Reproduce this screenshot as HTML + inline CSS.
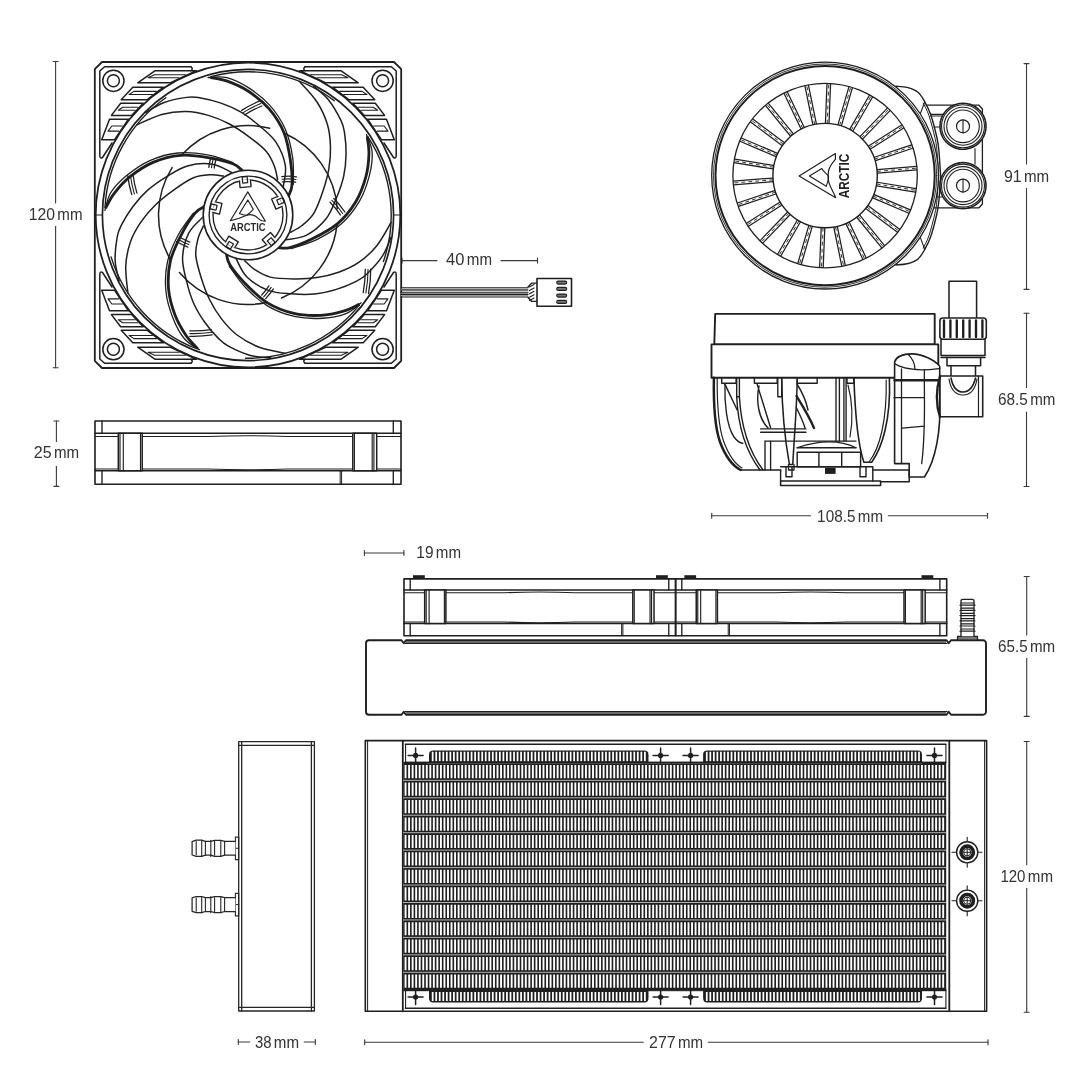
<!DOCTYPE html>
<html><head><meta charset="utf-8"><style>
html,body{margin:0;padding:0;background:#fff;width:1080px;height:1080px;overflow:hidden}
svg{display:block;font-family:"Liberation Sans",sans-serif;will-change:transform}
</style></head><body>
<svg width="1080" height="1080" viewBox="0 0 1080 1080" fill="none" stroke-linecap="round" stroke-linejoin="round">
<rect width="1080" height="1080" fill="#fff"/>
<line x1="55.6" y1="61.5" x2="55.6" y2="203" stroke="#3a3a3a" stroke-width="1.1"/>
<line x1="55.6" y1="226.3" x2="55.6" y2="367.8" stroke="#3a3a3a" stroke-width="1.1"/>
<line x1="53.1" y1="61.5" x2="58.1" y2="61.5" stroke="#3a3a3a" stroke-width="1.1"/>
<line x1="53.1" y1="367.8" x2="58.1" y2="367.8" stroke="#3a3a3a" stroke-width="1.1"/>
<text x="28.7" y="220" textLength="26.3" lengthAdjust="spacingAndGlyphs" font-size="17" fill="#333">120</text>
<text x="57.3" y="220" textLength="25.2" lengthAdjust="spacingAndGlyphs" font-size="17" fill="#333">mm</text>
<line x1="56.4" y1="421" x2="56.4" y2="441.5" stroke="#3a3a3a" stroke-width="1.1"/>
<line x1="56.4" y1="466.3" x2="56.4" y2="486.4" stroke="#3a3a3a" stroke-width="1.1"/>
<line x1="53.9" y1="421" x2="58.9" y2="421" stroke="#3a3a3a" stroke-width="1.1"/>
<line x1="53.9" y1="486.4" x2="58.9" y2="486.4" stroke="#3a3a3a" stroke-width="1.1"/>
<text x="33.7" y="458.4" textLength="17.9" lengthAdjust="spacingAndGlyphs" font-size="17" fill="#333">25</text>
<text x="53.9" y="458.4" textLength="25.2" lengthAdjust="spacingAndGlyphs" font-size="17" fill="#333">mm</text>
<line x1="402" y1="260.6" x2="437" y2="260.6" stroke="#3a3a3a" stroke-width="1.1"/>
<line x1="501" y1="260.6" x2="537.5" y2="260.6" stroke="#3a3a3a" stroke-width="1.1"/>
<line x1="402" y1="258.1" x2="402" y2="263.1" stroke="#3a3a3a" stroke-width="1.1"/>
<line x1="537.5" y1="258.1" x2="537.5" y2="263.1" stroke="#3a3a3a" stroke-width="1.1"/>
<text x="446.1" y="264.6" textLength="18.4" lengthAdjust="spacingAndGlyphs" font-size="17" fill="#333">40</text>
<text x="466.8" y="264.6" textLength="25.2" lengthAdjust="spacingAndGlyphs" font-size="17" fill="#333">mm</text>
<line x1="1026.5" y1="63.6" x2="1026.5" y2="164" stroke="#3a3a3a" stroke-width="1.1"/>
<line x1="1026.5" y1="188.5" x2="1026.5" y2="289.4" stroke="#3a3a3a" stroke-width="1.1"/>
<line x1="1024" y1="63.6" x2="1029" y2="63.6" stroke="#3a3a3a" stroke-width="1.1"/>
<line x1="1024" y1="289.4" x2="1029" y2="289.4" stroke="#3a3a3a" stroke-width="1.1"/>
<text x="1003.9" y="181.5" textLength="17.7" lengthAdjust="spacingAndGlyphs" font-size="17" fill="#333">91</text>
<text x="1023.9" y="181.5" textLength="25.2" lengthAdjust="spacingAndGlyphs" font-size="17" fill="#333">mm</text>
<line x1="1026.5" y1="313.3" x2="1026.5" y2="387.4" stroke="#3a3a3a" stroke-width="1.1"/>
<line x1="1026.5" y1="412.1" x2="1026.5" y2="486.5" stroke="#3a3a3a" stroke-width="1.1"/>
<line x1="1024" y1="313.3" x2="1029" y2="313.3" stroke="#3a3a3a" stroke-width="1.1"/>
<line x1="1024" y1="486.5" x2="1029" y2="486.5" stroke="#3a3a3a" stroke-width="1.1"/>
<text x="998.1" y="404.9" textLength="29.8" lengthAdjust="spacingAndGlyphs" font-size="17" fill="#333">68.5</text>
<text x="1030.2" y="404.9" textLength="25.2" lengthAdjust="spacingAndGlyphs" font-size="17" fill="#333">mm</text>
<line x1="711.7" y1="515.8" x2="810.6" y2="515.8" stroke="#3a3a3a" stroke-width="1.1"/>
<line x1="888.3" y1="515.8" x2="987.5" y2="515.8" stroke="#3a3a3a" stroke-width="1.1"/>
<line x1="711.7" y1="513.3" x2="711.7" y2="518.3" stroke="#3a3a3a" stroke-width="1.1"/>
<line x1="987.5" y1="513.3" x2="987.5" y2="518.3" stroke="#3a3a3a" stroke-width="1.1"/>
<text x="817.1" y="521.5" textLength="38.4" lengthAdjust="spacingAndGlyphs" font-size="17" fill="#333">108.5</text>
<text x="857.8" y="521.5" textLength="25.2" lengthAdjust="spacingAndGlyphs" font-size="17" fill="#333">mm</text>
<line x1="364.4" y1="553" x2="403.9" y2="553" stroke="#3a3a3a" stroke-width="1.1"/>
<line x1="364.4" y1="550.5" x2="364.4" y2="555.5" stroke="#3a3a3a" stroke-width="1.1"/>
<line x1="403.9" y1="550.5" x2="403.9" y2="555.5" stroke="#3a3a3a" stroke-width="1.1"/>
<text x="416.3" y="557.8" textLength="17.2" lengthAdjust="spacingAndGlyphs" font-size="17" fill="#333">19</text>
<text x="435.8" y="557.8" textLength="25.2" lengthAdjust="spacingAndGlyphs" font-size="17" fill="#333">mm</text>
<line x1="1026.7" y1="576.5" x2="1026.7" y2="634.9" stroke="#3a3a3a" stroke-width="1.1"/>
<line x1="1026.7" y1="658.3" x2="1026.7" y2="716.4" stroke="#3a3a3a" stroke-width="1.1"/>
<line x1="1024.2" y1="576.5" x2="1029.2" y2="576.5" stroke="#3a3a3a" stroke-width="1.1"/>
<line x1="1024.2" y1="716.4" x2="1029.2" y2="716.4" stroke="#3a3a3a" stroke-width="1.1"/>
<text x="998.1" y="651.8" textLength="29.6" lengthAdjust="spacingAndGlyphs" font-size="17" fill="#333">65.5</text>
<text x="1030" y="651.8" textLength="25.2" lengthAdjust="spacingAndGlyphs" font-size="17" fill="#333">mm</text>
<line x1="1026.7" y1="741.5" x2="1026.7" y2="864.7" stroke="#3a3a3a" stroke-width="1.1"/>
<line x1="1026.7" y1="888.3" x2="1026.7" y2="1012.2" stroke="#3a3a3a" stroke-width="1.1"/>
<line x1="1024.2" y1="741.5" x2="1029.2" y2="741.5" stroke="#3a3a3a" stroke-width="1.1"/>
<line x1="1024.2" y1="1012.2" x2="1029.2" y2="1012.2" stroke="#3a3a3a" stroke-width="1.1"/>
<text x="1000.4" y="882" textLength="25.1" lengthAdjust="spacingAndGlyphs" font-size="17" fill="#333">120</text>
<text x="1027.8" y="882" textLength="25.2" lengthAdjust="spacingAndGlyphs" font-size="17" fill="#333">mm</text>
<line x1="238.3" y1="1042" x2="249.7" y2="1042" stroke="#3a3a3a" stroke-width="1.1"/>
<line x1="304.2" y1="1042" x2="315.3" y2="1042" stroke="#3a3a3a" stroke-width="1.1"/>
<line x1="238.3" y1="1039.5" x2="238.3" y2="1044.5" stroke="#3a3a3a" stroke-width="1.1"/>
<line x1="315.3" y1="1039.5" x2="315.3" y2="1044.5" stroke="#3a3a3a" stroke-width="1.1"/>
<text x="254.9" y="1047.8" textLength="16.6" lengthAdjust="spacingAndGlyphs" font-size="17" fill="#333">38</text>
<text x="273.8" y="1047.8" textLength="25.2" lengthAdjust="spacingAndGlyphs" font-size="17" fill="#333">mm</text>
<line x1="364.7" y1="1042.2" x2="643.3" y2="1042.2" stroke="#3a3a3a" stroke-width="1.1"/>
<line x1="708.3" y1="1042.2" x2="988" y2="1042.2" stroke="#3a3a3a" stroke-width="1.1"/>
<line x1="364.7" y1="1039.7" x2="364.7" y2="1044.7" stroke="#3a3a3a" stroke-width="1.1"/>
<line x1="988" y1="1039.7" x2="988" y2="1044.7" stroke="#3a3a3a" stroke-width="1.1"/>
<text x="649.1" y="1047.8" textLength="26.6" lengthAdjust="spacingAndGlyphs" font-size="17" fill="#333">277</text>
<text x="678" y="1047.8" textLength="25.2" lengthAdjust="spacingAndGlyphs" font-size="17" fill="#333">mm</text>
<path d="M102 62H394L401.2 69.2V360.8L394 368H102L94.8 360.8V69.2Z" stroke="#1f1f1f" stroke-width="1.8"/>
<g><path d="M191 66.8H104.6L99.8 71V155.5Q99.8 159 102.5 157.5L112 143" stroke="#1f1f1f" stroke-width="1.5"/>
<path d="M191 66.8Q193.5 68.7 191 70.7" stroke="#1f1f1f" stroke-width="1.5"/>
<circle cx="113.4" cy="80.8" r="10.6" stroke="#1f1f1f" stroke-width="1.5"/>
<circle cx="113.4" cy="80.8" r="6" stroke="#1f1f1f" stroke-width="1.5"/>
<path d="M137.7 82.8H170.58L196.54 70.7H155.2Z" stroke="#1f1f1f" stroke-width="1.5"/>
<path d="M154.42 74.69H185.48 M154.42 74.69L148.05 77.72H179" stroke="#1f1f1f" stroke-width="1.1"/>
<path d="M121.2 99.8H147.01L163.52 87.2H132.8Z" stroke="#1f1f1f" stroke-width="1.5"/>
<path d="M133.97 91.36H156.54 M133.97 91.36L129.07 94.51H152.39" stroke="#1f1f1f" stroke-width="1.1"/>
<path d="M111.4 115.4H131.6L143.26 103.2H120.7Z" stroke="#1f1f1f" stroke-width="1.5"/>
<path d="M122.63 107.23H138.12 M122.63 107.23L118.31 110.28H135.18" stroke="#1f1f1f" stroke-width="1.1"/>
<path d="M101.7 139.7H114.58L128.45 119.2H109.5Z" stroke="#1f1f1f" stroke-width="1.5"/>
<path d="M111.93 125.97H122.33 M111.93 125.97L107.98 131.09H118.82" stroke="#1f1f1f" stroke-width="1.1"/></g>
<g transform="matrix(-1 0 0 1 496 0)"><path d="M191 66.8H104.6L99.8 71V155.5Q99.8 159 102.5 157.5L112 143" stroke="#1f1f1f" stroke-width="1.5"/>
<path d="M191 66.8Q193.5 68.7 191 70.7" stroke="#1f1f1f" stroke-width="1.5"/>
<circle cx="113.4" cy="80.8" r="10.6" stroke="#1f1f1f" stroke-width="1.5"/>
<circle cx="113.4" cy="80.8" r="6" stroke="#1f1f1f" stroke-width="1.5"/>
<path d="M137.7 82.8H170.58L196.54 70.7H155.2Z" stroke="#1f1f1f" stroke-width="1.5"/>
<path d="M154.42 74.69H185.48 M154.42 74.69L148.05 77.72H179" stroke="#1f1f1f" stroke-width="1.1"/>
<path d="M121.2 99.8H147.01L163.52 87.2H132.8Z" stroke="#1f1f1f" stroke-width="1.5"/>
<path d="M133.97 91.36H156.54 M133.97 91.36L129.07 94.51H152.39" stroke="#1f1f1f" stroke-width="1.1"/>
<path d="M111.4 115.4H131.6L143.26 103.2H120.7Z" stroke="#1f1f1f" stroke-width="1.5"/>
<path d="M122.63 107.23H138.12 M122.63 107.23L118.31 110.28H135.18" stroke="#1f1f1f" stroke-width="1.1"/>
<path d="M101.7 139.7H114.58L128.45 119.2H109.5Z" stroke="#1f1f1f" stroke-width="1.5"/>
<path d="M111.93 125.97H122.33 M111.93 125.97L107.98 131.09H118.82" stroke="#1f1f1f" stroke-width="1.1"/></g>
<g transform="matrix(1 0 0 -1 0 430)"><path d="M191 66.8H104.6L99.8 71V155.5Q99.8 159 102.5 157.5L112 143" stroke="#1f1f1f" stroke-width="1.5"/>
<path d="M191 66.8Q193.5 68.7 191 70.7" stroke="#1f1f1f" stroke-width="1.5"/>
<circle cx="113.4" cy="80.8" r="10.6" stroke="#1f1f1f" stroke-width="1.5"/>
<circle cx="113.4" cy="80.8" r="6" stroke="#1f1f1f" stroke-width="1.5"/>
<path d="M137.7 82.8H170.58L196.54 70.7H155.2Z" stroke="#1f1f1f" stroke-width="1.5"/>
<path d="M154.42 74.69H185.48 M154.42 74.69L148.05 77.72H179" stroke="#1f1f1f" stroke-width="1.1"/>
<path d="M121.2 99.8H147.01L163.52 87.2H132.8Z" stroke="#1f1f1f" stroke-width="1.5"/>
<path d="M133.97 91.36H156.54 M133.97 91.36L129.07 94.51H152.39" stroke="#1f1f1f" stroke-width="1.1"/>
<path d="M111.4 115.4H131.6L143.26 103.2H120.7Z" stroke="#1f1f1f" stroke-width="1.5"/>
<path d="M122.63 107.23H138.12 M122.63 107.23L118.31 110.28H135.18" stroke="#1f1f1f" stroke-width="1.1"/>
<path d="M101.7 139.7H114.58L128.45 119.2H109.5Z" stroke="#1f1f1f" stroke-width="1.5"/>
<path d="M111.93 125.97H122.33 M111.93 125.97L107.98 131.09H118.82" stroke="#1f1f1f" stroke-width="1.1"/></g>
<g transform="matrix(-1 0 0 -1 496 430)"><path d="M191 66.8H104.6L99.8 71V155.5Q99.8 159 102.5 157.5L112 143" stroke="#1f1f1f" stroke-width="1.5"/>
<path d="M191 66.8Q193.5 68.7 191 70.7" stroke="#1f1f1f" stroke-width="1.5"/>
<circle cx="113.4" cy="80.8" r="10.6" stroke="#1f1f1f" stroke-width="1.5"/>
<circle cx="113.4" cy="80.8" r="6" stroke="#1f1f1f" stroke-width="1.5"/>
<path d="M137.7 82.8H170.58L196.54 70.7H155.2Z" stroke="#1f1f1f" stroke-width="1.5"/>
<path d="M154.42 74.69H185.48 M154.42 74.69L148.05 77.72H179" stroke="#1f1f1f" stroke-width="1.1"/>
<path d="M121.2 99.8H147.01L163.52 87.2H132.8Z" stroke="#1f1f1f" stroke-width="1.5"/>
<path d="M133.97 91.36H156.54 M133.97 91.36L129.07 94.51H152.39" stroke="#1f1f1f" stroke-width="1.1"/>
<path d="M111.4 115.4H131.6L143.26 103.2H120.7Z" stroke="#1f1f1f" stroke-width="1.5"/>
<path d="M122.63 107.23H138.12 M122.63 107.23L118.31 110.28H135.18" stroke="#1f1f1f" stroke-width="1.1"/>
<path d="M101.7 139.7H114.58L128.45 119.2H109.5Z" stroke="#1f1f1f" stroke-width="1.5"/>
<path d="M111.93 125.97H122.33 M111.93 125.97L107.98 131.09H118.82" stroke="#1f1f1f" stroke-width="1.1"/></g>
<circle cx="248" cy="215" r="152.3" stroke="#1f1f1f" stroke-width="1.75"/>
<circle cx="248" cy="215" r="145.6" stroke="#1f1f1f" stroke-width="1.7"/>
<path d="M96 215H102.4M394 215H400" stroke="#1f1f1f" stroke-width="1.2"/>
<path d="M242.58 170.83C241.05 169.7 238.92 166.23 233.39 164.05C227.86 161.88 218.22 159.24 209.42 157.8C200.62 156.35 189.99 154.61 180.59 155.36C171.19 156.12 161.44 158.8 153.02 162.35C144.6 165.9 136.53 171.52 130.07 176.68C123.61 181.85 118.27 188.19 114.24 193.34C110.21 198.48 107.29 205.18 105.9 207.55" stroke="#1f1f1f" stroke-width="2.8"/>
<path d="M232.94 162.5C228.69 161.22 216.58 156.4 207.4 154.81C198.23 153.23 187.49 152.01 177.9 152.98C168.31 153.94 158.41 156.84 149.87 160.6C141.33 164.37 133.17 170.21 126.65 175.57C120.12 180.93 114.32 186.94 110.69 192.76C107.06 198.58 105.84 207.55 104.87 210.5" stroke="#1f1f1f" stroke-width="1.3"/>
<path d="M105 207.51A143.2 143.2 0 0 1 165.86 97.7" stroke="#1f1f1f" stroke-width="1.4"/>
<path d="M145.75 112.75C148.7 111.09 156.61 105.35 163.44 102.79C170.28 100.23 180.77 98.22 186.77 97.38C192.77 96.54 193.86 96.84 199.44 97.76C205.02 98.68 213.39 100.51 220.25 102.88C227.12 105.25 234.09 108.14 240.61 111.96C247.14 115.79 253.53 120.79 259.42 125.83C265.31 130.86 271.64 135.57 275.95 142.18C280.27 148.79 284.08 158.12 285.31 165.48C286.55 172.85 283.69 182.89 283.36 186.37" stroke="#1f1f1f" stroke-width="1.5"/>
<path d="M136.71 124.88C140.9 123.15 153.57 116.7 161.84 114.47C170.1 112.24 178.54 111.34 186.3 111.5C194.05 111.65 201.26 113.35 208.36 115.4C215.47 117.44 222.27 120.29 228.94 123.77C235.62 127.25 242.15 131.65 248.41 136.3C254.68 140.95 262.15 146.55 266.52 151.65C270.9 156.75 272.82 162.21 274.66 166.9C276.51 171.58 277.08 177.62 277.57 179.76" stroke="#1f1f1f" stroke-width="1.5"/>
<path d="M288.33 196.19C288.93 194.39 291.58 191.29 291.94 185.36C292.3 179.44 291.82 169.44 290.48 160.63C289.14 151.81 287.51 141.17 283.89 132.46C280.26 123.76 274.7 115.31 268.72 108.4C262.74 101.48 254.91 95.55 248 91C241.09 86.45 233.41 83.34 227.27 81.1C221.13 78.85 213.85 78.14 211.17 77.55" stroke="#1f1f1f" stroke-width="2.8"/>
<path d="M293.28 184.46C293.18 180.01 294.02 167.01 292.7 157.79C291.37 148.57 289.2 137.98 285.32 129.16C281.44 120.34 275.63 111.82 269.41 104.86C263.19 97.9 255.11 91.95 248 87.4C240.89 82.85 233.38 79.19 226.72 77.54C220.06 75.89 211.16 77.49 208.05 77.49" stroke="#1f1f1f" stroke-width="1.3"/>
<path d="M210.94 76.68A143.2 143.2 0 0 1 334.18 100.64" stroke="#1f1f1f" stroke-width="1.4"/>
<path d="M313.65 86.16C316.14 88.45 324.04 94.2 328.59 99.91C333.14 105.62 338.29 114.98 340.94 120.42C343.59 125.87 343.64 126.99 344.5 132.59C345.35 138.18 346.19 146.71 346.06 153.97C345.93 161.22 345.33 168.75 343.71 176.14C342.09 183.53 339.31 191.15 336.34 198.31C333.37 205.47 330.85 212.94 325.89 219.08C320.94 225.23 313.24 231.74 306.62 235.19C300 238.64 289.57 239.02 286.16 239.78" stroke="#1f1f1f" stroke-width="1.5"/>
<path d="M299.32 81.31C302.26 84.76 312.31 94.82 316.98 101.99C321.66 109.16 325.12 116.91 327.37 124.33C329.62 131.76 330.23 139.13 330.48 146.52C330.73 153.92 330.13 161.26 328.88 168.68C327.62 176.11 325.46 183.68 322.97 191.07C320.49 198.47 317.47 207.31 313.97 213.04C310.47 218.78 305.88 222.3 301.99 225.49C298.1 228.69 292.54 231.11 290.65 232.23" stroke="#1f1f1f" stroke-width="1.5"/>
<path d="M278.35 247.55C280.25 247.56 284.02 249.12 289.76 247.63C295.51 246.14 304.87 242.6 312.84 238.6C320.81 234.6 330.43 229.77 337.59 223.63C344.74 217.49 351.07 209.59 355.79 201.76C360.51 193.94 363.74 184.66 365.93 176.68C368.12 168.71 368.71 160.44 368.95 153.91C369.18 147.38 367.61 140.23 367.34 137.5" stroke="#1f1f1f" stroke-width="2.8"/>
<path d="M291.04 248.63C295.24 247.16 307.87 243.94 316.22 239.83C324.58 235.72 333.98 230.39 341.17 223.97C348.36 217.55 354.67 209.39 359.36 201.33C364.06 193.26 367.22 183.74 369.35 175.57C371.49 167.4 372.64 159.13 372.16 152.28C371.67 145.44 367.39 137.47 366.44 134.51" stroke="#1f1f1f" stroke-width="1.3"/>
<path d="M368.1 137.01A143.2 143.2 0 0 1 383.4 261.62" stroke="#1f1f1f" stroke-width="1.4"/>
<path d="M390.82 237.62C389.41 240.7 386.39 249.99 382.36 256.08C378.34 262.17 371.03 269.96 366.67 274.17C362.31 278.37 361.25 278.77 356.2 281.31C351.15 283.84 343.29 287.28 336.35 289.4C329.4 291.51 322.07 293.27 314.54 294.02C307.01 294.76 298.9 294.47 291.17 293.86C283.45 293.24 275.56 293.15 268.19 290.34C260.81 287.53 252.25 282.22 246.92 276.99C241.59 271.76 238.01 261.96 236.22 258.95" stroke="#1f1f1f" stroke-width="1.5"/>
<path d="M391 222.49C388.64 226.36 382.17 239.02 376.8 245.68C371.42 252.35 365.12 258.04 358.76 262.47C352.39 266.9 345.56 269.76 338.61 272.28C331.66 274.8 324.49 276.5 317.04 277.6C309.6 278.71 301.72 278.99 293.92 278.91C286.13 278.83 276.79 278.69 270.25 277.14C263.71 275.58 258.95 272.3 254.7 269.59C250.46 266.88 246.44 262.34 244.79 260.89" stroke="#1f1f1f" stroke-width="1.5"/>
<path d="M226.43 253.92C227 255.73 226.68 259.8 229.87 264.8C233.07 269.81 239.32 277.61 245.59 283.96C251.86 290.3 259.43 297.96 267.48 302.87C275.53 307.78 285 311.35 293.9 313.43C302.8 315.5 312.62 315.7 320.89 315.32C329.15 314.94 337.19 312.94 343.48 311.15C349.76 309.35 356.07 305.65 358.59 304.55" stroke="#1f1f1f" stroke-width="2.8"/>
<path d="M229.32 266.33C232.01 269.86 238.98 280.88 245.47 287.56C251.96 294.23 259.93 301.53 268.26 306.38C276.58 311.24 286.29 314.71 295.42 316.69C304.54 318.66 314.57 318.73 323 318.23C331.43 317.73 339.66 316.28 346.01 313.7C352.37 311.12 358.63 304.59 361.15 302.77" stroke="#1f1f1f" stroke-width="1.3"/>
<path d="M359.29 305.12A143.2 143.2 0 0 1 245.5 358.18" stroke="#1f1f1f" stroke-width="1.4"/>
<path d="M270.62 357.82C267.26 357.43 257.49 357.42 250.45 355.48C243.42 353.53 233.75 348.99 228.4 346.14C223.05 343.3 222.35 342.42 218.38 338.39C214.4 334.37 208.71 327.96 204.55 322.01C200.39 316.06 196.45 309.63 193.41 302.7C190.38 295.77 188.15 287.96 186.34 280.43C184.54 272.89 182.19 265.37 182.58 257.48C182.98 249.6 185.38 239.81 188.71 233.13C192.04 226.44 200.25 220.01 202.56 217.38" stroke="#1f1f1f" stroke-width="1.5"/>
<path d="M285.06 353.32C280.66 352.26 266.62 350.03 258.62 346.97C250.62 343.92 243.26 339.69 237.08 335C230.9 330.32 226.07 324.71 221.52 318.88C216.97 313.05 213.15 306.75 209.8 300.01C206.44 293.27 203.74 285.87 201.41 278.43C199.07 270.99 196.32 262.06 195.78 255.36C195.24 248.66 196.89 243.12 198.15 238.24C199.42 233.37 202.5 228.15 203.37 226.13" stroke="#1f1f1f" stroke-width="1.5"/>
<path d="M204.32 206.51C202.77 207.62 198.81 208.57 195.03 213.15C191.26 217.74 185.77 226.1 181.67 234.02C177.58 241.94 172.64 251.5 170.45 260.68C168.27 269.85 167.8 279.96 168.57 289.07C169.35 298.17 172.2 307.58 175.11 315.32C178.03 323.06 182.41 330.09 186.06 335.52C189.71 340.94 195.18 345.79 197 347.85" stroke="#1f1f1f" stroke-width="2.8"/>
<path d="M193.41 213.09C190.88 216.75 182.56 226.78 178.21 235.01C173.87 243.25 169.4 253.09 167.35 262.51C165.31 271.92 165 282.23 165.94 291.52C166.88 300.81 169.92 310.36 173 318.23C176.08 326.1 180 333.47 184.42 338.72C188.83 343.97 196.98 347.9 199.49 349.73" stroke="#1f1f1f" stroke-width="1.3"/>
<path d="M196.68 348.69A143.2 143.2 0 0 1 111.06 256.87" stroke="#1f1f1f" stroke-width="1.4"/>
<path d="M119.16 280.65C118.49 277.33 115.48 268.04 115.15 260.74C114.83 253.45 116.16 242.85 117.22 236.89C118.27 230.92 118.9 229.98 121.49 224.96C124.09 219.93 128.42 212.54 132.8 206.74C137.17 200.95 142.07 195.21 147.72 190.18C153.38 185.16 160.11 180.63 166.72 176.58C173.33 172.54 179.76 167.97 187.38 165.91C195 163.85 205.05 163.11 212.44 164.21C219.82 165.31 228.48 171.14 231.69 172.52" stroke="#1f1f1f" stroke-width="1.5"/>
<path d="M127.9 292.99C127.55 288.47 125.33 274.43 125.77 265.88C126.2 257.33 127.95 249.02 130.49 241.7C133.04 234.37 136.88 228.04 141.02 221.92C145.17 215.79 149.97 210.21 155.35 204.93C160.72 199.66 166.92 194.81 173.28 190.29C179.64 185.77 187.28 180.39 193.48 177.81C199.68 175.22 205.47 175.08 210.49 174.78C215.51 174.47 221.43 175.79 223.62 175.99" stroke="#1f1f1f" stroke-width="1.5"/>
<path d="M284.4 133.24A89.5 89.5 0 0 1 337.28 208.76" stroke="#1f1f1f" stroke-width="1.5"/>
<path d="M337.01 224.36A89.5 89.5 0 0 1 281.53 297.98" stroke="#1f1f1f" stroke-width="1.5"/>
<path d="M266.61 302.54A89.5 89.5 0 0 1 179.44 272.53" stroke="#1f1f1f" stroke-width="1.5"/>
<path d="M170.49 259.75A89.5 89.5 0 0 1 172.1 167.57" stroke="#1f1f1f" stroke-width="1.5"/>
<path d="M181.49 155.11A89.5 89.5 0 0 1 269.65 128.16" stroke="#1f1f1f" stroke-width="1.5"/>
<path d="M241.65 110.39Q249.98 104.92 259.87 100.97" stroke="#1f1f1f" stroke-width="1.3"/>
<path d="M243.12 112.65Q251.21 107.33 260.85 103.48" stroke="#1f1f1f" stroke-width="1.1"/>
<path d="M244.58 114.92Q252.45 109.75 261.84 105.99" stroke="#1f1f1f" stroke-width="1.3"/>
<path d="M208.81 167.44Q209.37 162.87 210.68 158.22" stroke="#1f1f1f" stroke-width="1.3"/>
<path d="M211.49 167.78Q212.02 163.42 213.27 158.97" stroke="#1f1f1f" stroke-width="1.1"/>
<path d="M214.17 168.13Q214.67 163.98 215.87 159.72" stroke="#1f1f1f" stroke-width="1.3"/>
<path d="M131.77 194.64Q128.98 185.57 127.7 175.63" stroke="#1f1f1f" stroke-width="1.3"/>
<path d="M134.35 193.86Q131.63 185.02 130.38 175.3" stroke="#1f1f1f" stroke-width="1.1"/>
<path d="M136.94 193.09Q134.29 184.46 133.06 174.98" stroke="#1f1f1f" stroke-width="1.3"/>
<path d="M281.75 176.59Q288.81 175.71 296.43 176.79" stroke="#1f1f1f" stroke-width="1.3"/>
<path d="M282.06 179.27Q288.76 178.43 296.03 179.46" stroke="#1f1f1f" stroke-width="1.1"/>
<path d="M282.38 181.96Q288.7 181.16 295.62 182.13" stroke="#1f1f1f" stroke-width="1.3"/>
<path d="M333.81 198.42Q339.85 204.4 344.89 211.99" stroke="#1f1f1f" stroke-width="1.3"/>
<path d="M331.89 200.32Q337.74 206.1 342.63 213.47" stroke="#1f1f1f" stroke-width="1.1"/>
<path d="M329.98 202.23Q335.63 207.81 340.36 214.95" stroke="#1f1f1f" stroke-width="1.3"/>
<path d="M273.43 288.95Q270.05 293.99 265.67 298.66" stroke="#1f1f1f" stroke-width="1.3"/>
<path d="M271.19 287.43Q267.95 292.29 263.72 296.8" stroke="#1f1f1f" stroke-width="1.1"/>
<path d="M268.96 285.91Q265.84 290.58 261.76 294.94" stroke="#1f1f1f" stroke-width="1.3"/>
<path d="M187.81 247.1Q182.14 244.91 176.64 241.52" stroke="#1f1f1f" stroke-width="1.3"/>
<path d="M188.8 244.58Q183.36 242.49 178.07 239.24" stroke="#1f1f1f" stroke-width="1.1"/>
<path d="M189.79 242.07Q184.59 240.07 179.51 236.95" stroke="#1f1f1f" stroke-width="1.3"/>
<path d="M370.7 269.19Q370.77 281.13 368.51 293.56" stroke="#1f1f1f" stroke-width="1.3"/>
<path d="M368 269.19Q368.07 280.87 365.86 293.06" stroke="#1f1f1f" stroke-width="1.1"/>
<path d="M365.3 269.19Q365.37 280.62 363.2 292.56" stroke="#1f1f1f" stroke-width="1.3"/>
<path d="M212.17 334.88Q201.36 336.6 189.75 336.3" stroke="#1f1f1f" stroke-width="1.3"/>
<path d="M211.76 332.21Q201.2 333.9 189.84 333.6" stroke="#1f1f1f" stroke-width="1.1"/>
<path d="M211.36 329.54Q201.04 331.19 189.93 330.9" stroke="#1f1f1f" stroke-width="1.3"/>
<circle cx="248" cy="215" r="44.8" fill="#fff" stroke="#1f1f1f" stroke-width="1.6"/>
<circle cx="248" cy="215" r="38.9" stroke="#1f1f1f" stroke-width="1.35"/>
<circle cx="248" cy="215" r="35" stroke="#1f1f1f" stroke-width="1.35"/>
<g transform="rotate(-5 248 215)"><path d="M242.5 180.4h11" stroke="#fff" stroke-width="1.8"/><path d="M242.5 180.2V187H253.5V180.2" stroke="#1f1f1f" stroke-width="1.35"/><rect x="245.5" y="176.7" width="5" height="6" stroke="#1f1f1f" stroke-width="1.2"/></g>
<g transform="rotate(67 248 215)"><path d="M242.5 180.4h11" stroke="#fff" stroke-width="1.8"/><path d="M242.5 180.2V187H253.5V180.2" stroke="#1f1f1f" stroke-width="1.35"/><rect x="245.5" y="176.7" width="5" height="6" stroke="#1f1f1f" stroke-width="1.2"/></g>
<g transform="rotate(139 248 215)"><path d="M242.5 180.4h11" stroke="#fff" stroke-width="1.8"/><path d="M242.5 180.2V187H253.5V180.2" stroke="#1f1f1f" stroke-width="1.35"/><rect x="245.5" y="176.7" width="5" height="6" stroke="#1f1f1f" stroke-width="1.2"/></g>
<g transform="rotate(211 248 215)"><path d="M242.5 180.4h11" stroke="#fff" stroke-width="1.8"/><path d="M242.5 180.2V187H253.5V180.2" stroke="#1f1f1f" stroke-width="1.35"/><rect x="245.5" y="176.7" width="5" height="6" stroke="#1f1f1f" stroke-width="1.2"/></g>
<g transform="rotate(283 248 215)"><path d="M242.5 180.4h11" stroke="#fff" stroke-width="1.8"/><path d="M242.5 180.2V187H253.5V180.2" stroke="#1f1f1f" stroke-width="1.35"/><rect x="245.5" y="176.7" width="5" height="6" stroke="#1f1f1f" stroke-width="1.2"/></g>
<path d="M247.8 191.9L230.3 220.8C236 219.5 242 217.5 246.7 215.3C250 214 253.5 214.8 256 216.5C258.5 218.5 260 220.3 262 220.8L265.3 221.1Z" stroke="#1f1f1f" stroke-width="1.15"/>
<path d="M247.8 200L239.4 213.6C242 214.8 244.5 215.4 246.7 215.3M247.8 200L253.3 209.4C251 212 248.8 213.8 246.7 215.3" stroke="#1f1f1f" stroke-width="1.1"/>
<text x="230.3" y="231.1" textLength="35.3" lengthAdjust="spacingAndGlyphs" font-size="10.8" font-weight="bold" fill="#2a2a2a">ARCTIC</text>
<rect x="95" y="421" width="306" height="63.3" stroke="#1f1f1f" stroke-width="1.6"/>
<line x1="95" y1="433.3" x2="401" y2="433.3" stroke="#1f1f1f" stroke-width="1.45"/>
<line x1="95" y1="470.8" x2="401" y2="470.8" stroke="#1f1f1f" stroke-width="1.45"/>
<path d="M95 436.5L207.5 436.5Q247.5 435 287.5 436.5L401 436.5" stroke="#1f1f1f" stroke-width="1.1"/>
<path d="M95 469L207.5 469Q247.5 470.5 287.5 469L401 469" stroke="#1f1f1f" stroke-width="1.1"/>
<path d="M102 421V433.3 M102 470.8V484.3" stroke="#1f1f1f" stroke-width="1.35"/>
<path d="M393.3 421V433.3 M393.3 470.8V484.3" stroke="#1f1f1f" stroke-width="1.35"/>
<rect x="118.3" y="433.3" width="23.9" height="37.5" fill="#fff" stroke="#1f1f1f" stroke-width="1.5"/>
<line x1="120" y1="433.3" x2="120" y2="470.8" stroke="#1f1f1f" stroke-width="1.15"/>
<line x1="123.3" y1="433.3" x2="123.3" y2="470.8" stroke="#1f1f1f" stroke-width="1.15"/>
<line x1="140.5" y1="433.3" x2="140.5" y2="470.8" stroke="#1f1f1f" stroke-width="1.15"/>
<rect x="352.8" y="433.3" width="23.9" height="37.5" fill="#fff" stroke="#1f1f1f" stroke-width="1.5"/>
<line x1="354.4" y1="433.3" x2="354.4" y2="470.8" stroke="#1f1f1f" stroke-width="1.15"/>
<line x1="372.2" y1="433.3" x2="372.2" y2="470.8" stroke="#1f1f1f" stroke-width="1.15"/>
<line x1="373.9" y1="433.3" x2="373.9" y2="470.8" stroke="#1f1f1f" stroke-width="1.15"/>
<path d="M340.2 470.8V484.3 M341.6 470.8V484.3" stroke="#1f1f1f" stroke-width="1"/>
<rect x="401" y="288.6" width="127" height="2" fill="#aaa"/>
<rect x="401" y="293.2" width="127" height="3" fill="#999"/>
<line x1="401" y1="287.8" x2="528" y2="287.8" stroke="#1f1f1f" stroke-width="1.1"/>
<line x1="401" y1="290" x2="528" y2="290" stroke="#1f1f1f" stroke-width="1.1"/>
<line x1="401" y1="292.2" x2="528" y2="292.2" stroke="#1f1f1f" stroke-width="1.1"/>
<line x1="401" y1="294.4" x2="528" y2="294.4" stroke="#1f1f1f" stroke-width="1.1"/>
<line x1="401" y1="297" x2="528" y2="297" stroke="#1f1f1f" stroke-width="1.1"/>
<path d="M528 287L531.5 283.2H537M528 297.5L531.5 301.3H537" stroke="#1f1f1f" stroke-width="1.3"/>
<path d="M529.5 287L534 284.5" stroke="#1f1f1f" stroke-width="1.1"/>
<path d="M529.5 290.4L534 287.9" stroke="#1f1f1f" stroke-width="1.1"/>
<path d="M529.5 293.8L534 291.3" stroke="#1f1f1f" stroke-width="1.1"/>
<path d="M529.5 297.2L534 294.7" stroke="#1f1f1f" stroke-width="1.1"/>
<path d="M529.5 300.6L534 298.1" stroke="#1f1f1f" stroke-width="1.1"/>
<rect x="537" y="278.5" width="34.5" height="27.8" fill="#fff" stroke="#1f1f1f" stroke-width="1.6"/>
<rect x="556.7" y="281.1" width="10" height="3" rx="1.5" fill="#777" stroke="#1f1f1f" stroke-width="1.1"/>
<rect x="556.7" y="287.4" width="10" height="3" rx="1.5" fill="#777" stroke="#1f1f1f" stroke-width="1.1"/>
<rect x="556.7" y="294.1" width="10" height="3" rx="1.5" fill="#777" stroke="#1f1f1f" stroke-width="1.1"/>
<rect x="556.7" y="300.4" width="10" height="3" rx="1.5" fill="#777" stroke="#1f1f1f" stroke-width="1.1"/>
<path d="M895.91 86.26C897.77 86.45 903.38 86.4 907.06 87.4C910.74 88.4 915.04 89.85 917.99 92.25C920.94 94.66 922.67 98.15 924.78 101.84C926.89 105.54 928.66 108.6 930.65 114.42C932.64 120.23 935.36 130.8 936.73 136.73C938.09 142.65 938.2 143.49 938.85 149.97C939.49 156.44 940.31 171.33 940.6 175.6" stroke="#1f1f1f" stroke-width="1.4"/>
<path d="M923.17 103.03C924.13 105.1 926.97 109.69 928.92 115.42C930.86 121.14 933.51 131.55 934.84 137.39C936.17 143.22 936.27 144.04 936.9 150.41C937.52 156.77 938.32 171.4 938.6 175.6" stroke="#1f1f1f" stroke-width="1"/>
<line x1="924.78" y1="101.84" x2="920.29" y2="113.78" stroke="#1f1f1f" stroke-width="1.1"/>
<path d="M895.91 264.94C897.77 264.75 903.38 264.8 907.06 263.8C910.74 262.8 915.04 261.35 917.99 258.95C920.94 256.54 922.67 253.05 924.78 249.36C926.89 245.66 928.66 242.6 930.65 236.78C932.64 230.97 935.36 220.4 936.73 214.47C938.09 208.55 938.2 207.71 938.85 201.23C939.49 194.76 940.31 179.87 940.6 175.6" stroke="#1f1f1f" stroke-width="1.4"/>
<path d="M923.17 248.17C924.13 246.1 926.97 241.51 928.92 235.78C930.86 230.06 933.51 219.65 934.84 213.81C936.17 207.98 936.27 207.16 936.9 200.79C937.52 194.43 938.32 179.8 938.6 175.6" stroke="#1f1f1f" stroke-width="1"/>
<line x1="924.78" y1="249.36" x2="920.29" y2="237.42" stroke="#1f1f1f" stroke-width="1.1"/>
<path d="M926.3 105.2H979L982.4 109V204L979 207.8H926.3" stroke="#1f1f1f" stroke-width="1.3"/>
<path d="M930.7 114.4H945M930.7 116H945M934 127H942M934 197H942M975 148.5V164.3" stroke="#1f1f1f" stroke-width="1.1"/>
<circle cx="825.1" cy="175.6" r="113.4" fill="#fff" stroke="#1f1f1f" stroke-width="1.3"/>
<circle cx="825.1" cy="175.6" r="111.6" stroke="#1f1f1f" stroke-width="0.9"/>
<circle cx="825.1" cy="175.6" r="109.6" stroke="#1f1f1f" stroke-width="2"/>
<circle cx="825.1" cy="175.6" r="92.2" stroke="#1f1f1f" stroke-width="1.3"/>
<circle cx="825.1" cy="175.6" r="52.2" stroke="#1f1f1f" stroke-width="1.4"/>
<line x1="829.01" y1="123.11" x2="830.58" y2="83.95" stroke="#1f1f1f" stroke-width="1.25"/>
<line x1="827.21" y1="123.04" x2="828.78" y2="83.87" stroke="#1f1f1f" stroke-width="0.9" stroke-dasharray="3 4"/>
<line x1="825.41" y1="122.97" x2="826.99" y2="83.8" stroke="#1f1f1f" stroke-width="1.25"/>
<line x1="841.46" y1="125.58" x2="852.36" y2="87.92" stroke="#1f1f1f" stroke-width="1.25"/>
<line x1="839.73" y1="125.07" x2="850.63" y2="87.42" stroke="#1f1f1f" stroke-width="0.9" stroke-dasharray="3 4"/>
<line x1="838" y1="124.57" x2="848.9" y2="86.92" stroke="#1f1f1f" stroke-width="1.25"/>
<line x1="852.95" y1="130.94" x2="872.55" y2="96.99" stroke="#1f1f1f" stroke-width="1.25"/>
<line x1="851.39" y1="130.04" x2="870.99" y2="96.09" stroke="#1f1f1f" stroke-width="0.9" stroke-dasharray="3 4"/>
<line x1="849.83" y1="129.14" x2="869.43" y2="95.19" stroke="#1f1f1f" stroke-width="1.25"/>
<line x1="862.83" y1="138.91" x2="889.98" y2="110.63" stroke="#1f1f1f" stroke-width="1.25"/>
<line x1="861.53" y1="137.66" x2="888.68" y2="109.38" stroke="#1f1f1f" stroke-width="0.9" stroke-dasharray="3 4"/>
<line x1="860.23" y1="136.41" x2="887.38" y2="108.14" stroke="#1f1f1f" stroke-width="1.25"/>
<line x1="870.52" y1="149" x2="903.64" y2="128.05" stroke="#1f1f1f" stroke-width="1.25"/>
<line x1="869.55" y1="147.48" x2="902.68" y2="126.52" stroke="#1f1f1f" stroke-width="0.9" stroke-dasharray="3 4"/>
<line x1="868.59" y1="145.96" x2="901.72" y2="125" stroke="#1f1f1f" stroke-width="1.25"/>
<line x1="875.56" y1="160.64" x2="912.74" y2="148.22" stroke="#1f1f1f" stroke-width="1.25"/>
<line x1="874.99" y1="158.94" x2="912.17" y2="146.52" stroke="#1f1f1f" stroke-width="0.9" stroke-dasharray="3 4"/>
<line x1="874.42" y1="157.23" x2="911.6" y2="144.81" stroke="#1f1f1f" stroke-width="1.25"/>
<line x1="877.67" y1="173.15" x2="916.75" y2="169.99" stroke="#1f1f1f" stroke-width="1.25"/>
<line x1="877.53" y1="171.36" x2="916.6" y2="168.2" stroke="#1f1f1f" stroke-width="0.9" stroke-dasharray="3 4"/>
<line x1="877.38" y1="169.57" x2="916.46" y2="166.41" stroke="#1f1f1f" stroke-width="1.25"/>
<line x1="876.73" y1="185.81" x2="915.42" y2="192.09" stroke="#1f1f1f" stroke-width="1.25"/>
<line x1="877.02" y1="184.03" x2="915.71" y2="190.31" stroke="#1f1f1f" stroke-width="0.9" stroke-dasharray="3 4"/>
<line x1="877.31" y1="182.25" x2="916" y2="188.54" stroke="#1f1f1f" stroke-width="1.25"/>
<line x1="872.79" y1="197.87" x2="908.85" y2="213.23" stroke="#1f1f1f" stroke-width="1.25"/>
<line x1="873.49" y1="196.21" x2="909.56" y2="211.57" stroke="#1f1f1f" stroke-width="0.9" stroke-dasharray="3 4"/>
<line x1="874.2" y1="194.55" x2="910.26" y2="209.91" stroke="#1f1f1f" stroke-width="1.25"/>
<line x1="866.07" y1="208.63" x2="897.42" y2="232.18" stroke="#1f1f1f" stroke-width="1.25"/>
<line x1="867.16" y1="207.19" x2="898.5" y2="230.74" stroke="#1f1f1f" stroke-width="0.9" stroke-dasharray="3 4"/>
<line x1="868.24" y1="205.75" x2="899.58" y2="229.3" stroke="#1f1f1f" stroke-width="1.25"/>
<line x1="856.98" y1="217.48" x2="881.78" y2="247.84" stroke="#1f1f1f" stroke-width="1.25"/>
<line x1="858.37" y1="216.34" x2="883.17" y2="246.7" stroke="#1f1f1f" stroke-width="0.9" stroke-dasharray="3 4"/>
<line x1="859.77" y1="215.2" x2="884.56" y2="245.56" stroke="#1f1f1f" stroke-width="1.25"/>
<line x1="846.03" y1="223.89" x2="862.84" y2="259.3" stroke="#1f1f1f" stroke-width="1.25"/>
<line x1="847.66" y1="223.12" x2="864.47" y2="258.53" stroke="#1f1f1f" stroke-width="0.9" stroke-dasharray="3 4"/>
<line x1="849.28" y1="222.35" x2="866.09" y2="257.76" stroke="#1f1f1f" stroke-width="1.25"/>
<line x1="833.87" y1="227.5" x2="841.71" y2="265.9" stroke="#1f1f1f" stroke-width="1.25"/>
<line x1="835.63" y1="227.14" x2="843.48" y2="265.54" stroke="#1f1f1f" stroke-width="0.9" stroke-dasharray="3 4"/>
<line x1="837.39" y1="226.77" x2="845.24" y2="265.18" stroke="#1f1f1f" stroke-width="1.25"/>
<line x1="821.19" y1="228.09" x2="819.62" y2="267.25" stroke="#1f1f1f" stroke-width="1.25"/>
<line x1="822.99" y1="228.16" x2="821.42" y2="267.33" stroke="#1f1f1f" stroke-width="0.9" stroke-dasharray="3 4"/>
<line x1="824.79" y1="228.23" x2="823.22" y2="267.4" stroke="#1f1f1f" stroke-width="1.25"/>
<line x1="808.75" y1="225.63" x2="797.85" y2="263.28" stroke="#1f1f1f" stroke-width="1.25"/>
<line x1="810.47" y1="226.13" x2="799.57" y2="263.78" stroke="#1f1f1f" stroke-width="0.9" stroke-dasharray="3 4"/>
<line x1="812.2" y1="226.63" x2="801.3" y2="264.28" stroke="#1f1f1f" stroke-width="1.25"/>
<line x1="797.25" y1="220.26" x2="777.65" y2="254.21" stroke="#1f1f1f" stroke-width="1.25"/>
<line x1="798.81" y1="221.16" x2="779.21" y2="255.11" stroke="#1f1f1f" stroke-width="0.9" stroke-dasharray="3 4"/>
<line x1="800.37" y1="222.06" x2="780.77" y2="256.01" stroke="#1f1f1f" stroke-width="1.25"/>
<line x1="787.37" y1="212.3" x2="760.22" y2="240.57" stroke="#1f1f1f" stroke-width="1.25"/>
<line x1="788.67" y1="213.54" x2="761.52" y2="241.82" stroke="#1f1f1f" stroke-width="0.9" stroke-dasharray="3 4"/>
<line x1="789.97" y1="214.79" x2="762.82" y2="243.06" stroke="#1f1f1f" stroke-width="1.25"/>
<line x1="779.69" y1="202.2" x2="746.56" y2="223.16" stroke="#1f1f1f" stroke-width="1.25"/>
<line x1="780.65" y1="203.72" x2="747.52" y2="224.68" stroke="#1f1f1f" stroke-width="0.9" stroke-dasharray="3 4"/>
<line x1="781.61" y1="205.24" x2="748.48" y2="226.2" stroke="#1f1f1f" stroke-width="1.25"/>
<line x1="774.64" y1="190.56" x2="737.46" y2="202.98" stroke="#1f1f1f" stroke-width="1.25"/>
<line x1="775.21" y1="192.27" x2="738.03" y2="204.69" stroke="#1f1f1f" stroke-width="0.9" stroke-dasharray="3 4"/>
<line x1="775.78" y1="193.97" x2="738.6" y2="206.39" stroke="#1f1f1f" stroke-width="1.25"/>
<line x1="772.53" y1="178.05" x2="733.45" y2="181.21" stroke="#1f1f1f" stroke-width="1.25"/>
<line x1="772.67" y1="179.84" x2="733.6" y2="183" stroke="#1f1f1f" stroke-width="0.9" stroke-dasharray="3 4"/>
<line x1="772.82" y1="181.64" x2="733.74" y2="184.8" stroke="#1f1f1f" stroke-width="1.25"/>
<line x1="773.47" y1="165.4" x2="734.77" y2="159.11" stroke="#1f1f1f" stroke-width="1.25"/>
<line x1="773.18" y1="167.17" x2="734.49" y2="160.89" stroke="#1f1f1f" stroke-width="0.9" stroke-dasharray="3 4"/>
<line x1="772.89" y1="168.95" x2="734.2" y2="162.67" stroke="#1f1f1f" stroke-width="1.25"/>
<line x1="777.41" y1="153.34" x2="741.34" y2="137.98" stroke="#1f1f1f" stroke-width="1.25"/>
<line x1="776.71" y1="154.99" x2="740.64" y2="139.63" stroke="#1f1f1f" stroke-width="0.9" stroke-dasharray="3 4"/>
<line x1="776" y1="156.65" x2="739.93" y2="141.29" stroke="#1f1f1f" stroke-width="1.25"/>
<line x1="784.12" y1="142.57" x2="752.78" y2="119.03" stroke="#1f1f1f" stroke-width="1.25"/>
<line x1="783.04" y1="144.01" x2="751.7" y2="120.47" stroke="#1f1f1f" stroke-width="0.9" stroke-dasharray="3 4"/>
<line x1="781.96" y1="145.45" x2="750.62" y2="121.91" stroke="#1f1f1f" stroke-width="1.25"/>
<line x1="793.22" y1="133.72" x2="768.42" y2="103.36" stroke="#1f1f1f" stroke-width="1.25"/>
<line x1="791.83" y1="134.86" x2="767.03" y2="104.5" stroke="#1f1f1f" stroke-width="0.9" stroke-dasharray="3 4"/>
<line x1="790.43" y1="136" x2="765.63" y2="105.64" stroke="#1f1f1f" stroke-width="1.25"/>
<line x1="804.17" y1="127.31" x2="787.36" y2="91.9" stroke="#1f1f1f" stroke-width="1.25"/>
<line x1="802.54" y1="128.08" x2="785.73" y2="92.67" stroke="#1f1f1f" stroke-width="0.9" stroke-dasharray="3 4"/>
<line x1="800.92" y1="128.85" x2="784.1" y2="93.44" stroke="#1f1f1f" stroke-width="1.25"/>
<line x1="816.33" y1="123.7" x2="808.48" y2="85.3" stroke="#1f1f1f" stroke-width="1.25"/>
<line x1="814.57" y1="124.07" x2="806.72" y2="85.66" stroke="#1f1f1f" stroke-width="0.9" stroke-dasharray="3 4"/>
<line x1="812.8" y1="124.43" x2="804.96" y2="86.02" stroke="#1f1f1f" stroke-width="1.25"/>
<path d="M835.4 153.6L799.1 176L835.7 197.7C833 190 826 183 828.5 171C830 165 834 161 835.4 159.4Z" stroke="#1f1f1f" stroke-width="1.2"/>
<path d="M821.8 168.5L809.4 176L826.3 186.3C828 181 829 177 828.5 176C826 173 823 171 821.8 168.5Z" stroke="#1f1f1f" stroke-width="1.1"/>
<text transform="translate(849 198.3) rotate(-90)" x="0" y="0" textLength="44.5" lengthAdjust="spacingAndGlyphs" font-size="14.5" font-weight="bold" fill="#1f1f1f">ARCTIC</text>
<circle cx="963" cy="126.3" r="23" fill="#fff" stroke="#1f1f1f" stroke-width="1.6" stroke-dasharray="2.2 0.8"/>
<circle cx="963" cy="126.3" r="21.5" stroke="#1f1f1f" stroke-width="1.1"/>
<circle cx="963" cy="126.3" r="19" stroke="#1f1f1f" stroke-width="1.1"/>
<circle cx="963" cy="126.3" r="16.3" stroke="#1f1f1f" stroke-width="1.1"/>
<circle cx="963" cy="126.3" r="6.5" stroke="#1f1f1f" stroke-width="1.2"/>
<line x1="963" y1="119.8" x2="963" y2="132.8" stroke="#1f1f1f" stroke-width="1.1"/>
<circle cx="963" cy="185.6" r="23" fill="#fff" stroke="#1f1f1f" stroke-width="1.6" stroke-dasharray="2.2 0.8"/>
<circle cx="963" cy="185.6" r="21.5" stroke="#1f1f1f" stroke-width="1.1"/>
<circle cx="963" cy="185.6" r="19" stroke="#1f1f1f" stroke-width="1.1"/>
<circle cx="963" cy="185.6" r="16.3" stroke="#1f1f1f" stroke-width="1.1"/>
<circle cx="963" cy="185.6" r="6.5" stroke="#1f1f1f" stroke-width="1.2"/>
<line x1="963" y1="179.1" x2="963" y2="192.1" stroke="#1f1f1f" stroke-width="1.1"/>
<path d="M715.2 313.9H934.7V344.4H714.3Z" stroke="#1f1f1f" stroke-width="1.89" fill="#fff"/>
<path d="M711.5 344.4H938.3V377.8H711.5Z" stroke="#1f1f1f" stroke-width="1.89" fill="#fff"/>
<path d="M894.6 380V362C897 355 905 353.9 912 353.9C922 354 935 360 939.7 366.4V400C941 430 936 460 924.4 477H909.2V463.6H894.6V380Z" stroke="#1f1f1f" stroke-width="1.59" fill="#fff"/>
<path d="M894.6 363.6C900 368 910 369.5 921.7 369.9C930 369.9 936 369 939.7 368.5" stroke="#1f1f1f" stroke-width="1.3"/>
<path d="M907.8 354C912 358 915 364 915 369.5" stroke="#1f1f1f" stroke-width="1.18"/>
<path d="M901.5 369V463.6M924.4 370C924 400 926 430 921.7 463.6M893.9 397.6H924.4M902.2 428.2L924.4 426.1" stroke="#1f1f1f" stroke-width="1.3"/>
<path d="M894.6 380.3H939.7" stroke="#1f1f1f" stroke-width="2.36"/>
<path d="M713.9 377.8C713.5 400 714 425 720 442C726 458 733 466 740.6 470" stroke="#1f1f1f" stroke-width="2.48"/>
<path d="M717.2 378C717 402 718 425 723.5 441C729 456 735 464 742 468" stroke="#1f1f1f" stroke-width="1.18"/>
<path d="M736.7 396.7C738 425 745 450 760 470M739.4 396.7C741 425 748 450 763 470" stroke="#1f1f1f" stroke-width="1.42"/>
<path d="M725 384.4C724.5 400 726 425 734 437C737 441 740 443 742.8 443.3" stroke="#1f1f1f" stroke-width="1.36"/>
<path d="M725 384.4L737.2 410M757.2 384.4L770.6 427.8M759 386C756 400 758 418 768 428" stroke="#1f1f1f" stroke-width="1.42"/>
<path d="M796.5 396C802 405 809 416 814 428" stroke="#1f1f1f" stroke-width="2.36"/>
<path d="M796.5 408C800 415 803 421 805 428M797 384C802 392 806 400 808 410" stroke="#1f1f1f" stroke-width="1.42"/>
<path d="M721.7 378.2V383.3H736.1V378.2" stroke="#1f1f1f" stroke-width="1.42"/>
<path d="M754.4 378.2V383.3H777.2V378.2" stroke="#1f1f1f" stroke-width="1.42"/>
<path d="M797.2 378.2V383.3H817.2V378.2" stroke="#1f1f1f" stroke-width="1.42"/>
<path d="M847 378.2V383.3H854V378.2" stroke="#1f1f1f" stroke-width="1.42"/>
<path d="M736.7 378V396.7H739.4V378M777.8 378V396.7H781.7V378M836 378V441M839.4 378V441M843.9 378V441M846.1 378V441" stroke="#1f1f1f" stroke-width="1.36"/>
<path d="M781.7 378.9C782 405 785 440 789.4 464.4H792.8C794 440 797 405 797.2 378.9" stroke="#1f1f1f" stroke-width="1.53"/>
<path d="M788.5 464.4V470H794V464.4" stroke="#1f1f1f" stroke-width="1.3"/>
<path d="M853.9 378.2C855 410 858 445 863.9 462.2H871.7C882 448 891 420 889.4 378.2" stroke="#1f1f1f" stroke-width="1.59"/>
<path d="M886.2 380C887 420 880 448 869 462" stroke="#1f1f1f" stroke-width="1.18"/>
<path d="M848 385C852 400 853 420 850 437" stroke="#1f1f1f" stroke-width="1.18"/>
<path d="M760.6 428.9H806M760.6 432.2H806M765 441.1H856M797.2 447.8H856M765 441V470M770.6 441V470" stroke="#1f1f1f" stroke-width="1.36"/>
<path d="M797 447.8C820 440 840 440 856 447.8" stroke="#1f1f1f" stroke-width="1.18"/>
<path d="M797.2 452.2H860.6V466.7H797.2ZM818.9 452.2V466.7M841.7 452.2V466.7" stroke="#1f1f1f" stroke-width="1.42"/>
<path d="M780.6 470V481.1M780.6 466.7H872.8V481.1M786 466.7V476.7H792V466.7M860 466.7V476.7H866V466.7" stroke="#1f1f1f" stroke-width="1.42"/>
<rect x="825" y="467.8" width="10.6" height="6.1" fill="#1f1f1f"/>
<path d="M780.6 481.1H880.6V485.6H780.6Z" stroke="#1f1f1f" stroke-width="1.53"/>
<path d="M740.6 470H780.6M872.8 470H909.2V481.7H880.6" stroke="#1f1f1f" stroke-width="1.53"/>
<path d="M949 318V281.2H976.6V318" stroke="#1f1f1f" stroke-width="1.53" fill="#fff"/>
<rect x="939.9" y="318" width="46.4" height="21.3" rx="3" fill="#fff" stroke="#1f1f1f" stroke-width="1.6"/>
<path d="M944 320.5V337" stroke="#1f1f1f" stroke-width="2.36"/>
<path d="M950.4 320.5V337" stroke="#1f1f1f" stroke-width="2.36"/>
<path d="M956.8 320.5V337" stroke="#1f1f1f" stroke-width="2.36"/>
<path d="M963.2 320.5V337" stroke="#1f1f1f" stroke-width="2.36"/>
<path d="M969.6 320.5V337" stroke="#1f1f1f" stroke-width="2.36"/>
<path d="M976 320.5V337" stroke="#1f1f1f" stroke-width="2.36"/>
<path d="M982.4 320.5V337" stroke="#1f1f1f" stroke-width="2.36"/>
<path d="M941 339.3V355.6H985V339.3M941 357.6H985" stroke="#1f1f1f" stroke-width="1.53"/>
<path d="M947 357.6V365.8H980.6V357.6M951 365.8V378M975.5 365.8V378" stroke="#1f1f1f" stroke-width="1.53"/>
<path d="M940 376H982.7V416.8H940Z" stroke="#1f1f1f" stroke-width="1.59" fill="#fff"/>
<path d="M951 378C953 388 958 392 963 392C968 392 973 388 975.5 378" stroke="#1f1f1f" stroke-width="1.59"/>
<path d="M949 379C951 391 957 395 963 395C969 395 975 391 977 379" stroke="#1f1f1f" stroke-width="1.18"/>
<path d="M940 376C936 390 936 405 940 416.8" stroke="#1f1f1f" stroke-width="2.36"/>
<path d="M978.5 376V416.8" stroke="#1f1f1f" stroke-width="1.18"/>
<rect x="404" y="578.9" width="271.6" height="56.8" stroke="#1f1f1f" stroke-width="1.6"/>
<line x1="404" y1="589.94" x2="675.6" y2="589.94" stroke="#1f1f1f" stroke-width="1.45"/>
<line x1="404" y1="623.59" x2="675.6" y2="623.59" stroke="#1f1f1f" stroke-width="1.45"/>
<path d="M404 592.81L503.85 592.81Q539.36 591.31 574.86 592.81L675.6 592.81" stroke="#1f1f1f" stroke-width="1.1"/>
<path d="M404 621.97L503.85 621.97Q539.36 623.47 574.86 621.97L675.6 621.97" stroke="#1f1f1f" stroke-width="1.1"/>
<path d="M410.21 578.9V589.94 M410.21 623.59V635.7" stroke="#1f1f1f" stroke-width="1.35"/>
<path d="M668.77 578.9V589.94 M668.77 623.59V635.7" stroke="#1f1f1f" stroke-width="1.35"/>
<rect x="424.68" y="589.94" width="21.21" height="33.65" fill="#fff" stroke="#1f1f1f" stroke-width="1.5"/>
<line x1="426.19" y1="589.94" x2="426.19" y2="623.59" stroke="#1f1f1f" stroke-width="1.15"/>
<line x1="429.12" y1="589.94" x2="429.12" y2="623.59" stroke="#1f1f1f" stroke-width="1.15"/>
<line x1="444.38" y1="589.94" x2="444.38" y2="623.59" stroke="#1f1f1f" stroke-width="1.15"/>
<rect x="632.82" y="589.94" width="21.21" height="33.65" fill="#fff" stroke="#1f1f1f" stroke-width="1.5"/>
<line x1="634.24" y1="589.94" x2="634.24" y2="623.59" stroke="#1f1f1f" stroke-width="1.15"/>
<line x1="650.04" y1="589.94" x2="650.04" y2="623.59" stroke="#1f1f1f" stroke-width="1.15"/>
<line x1="651.55" y1="589.94" x2="651.55" y2="623.59" stroke="#1f1f1f" stroke-width="1.15"/>
<path d="M621.64 623.59V635.7 M622.88 623.59V635.7" stroke="#1f1f1f" stroke-width="1"/>
<rect x="675.6" y="578.9" width="271.1" height="56.8" stroke="#1f1f1f" stroke-width="1.6"/>
<line x1="675.6" y1="589.94" x2="946.7" y2="589.94" stroke="#1f1f1f" stroke-width="1.45"/>
<line x1="675.6" y1="623.59" x2="946.7" y2="623.59" stroke="#1f1f1f" stroke-width="1.45"/>
<path d="M675.6 592.81L775.27 592.81Q810.71 591.31 846.14 592.81L946.7 592.81" stroke="#1f1f1f" stroke-width="1.1"/>
<path d="M675.6 621.97L775.27 621.97Q810.71 623.47 846.14 621.97L946.7 621.97" stroke="#1f1f1f" stroke-width="1.1"/>
<path d="M681.8 578.9V589.94 M681.8 623.59V635.7" stroke="#1f1f1f" stroke-width="1.35"/>
<path d="M939.88 578.9V589.94 M939.88 623.59V635.7" stroke="#1f1f1f" stroke-width="1.35"/>
<rect x="696.24" y="589.94" width="21.17" height="33.65" fill="#fff" stroke="#1f1f1f" stroke-width="1.5"/>
<line x1="697.75" y1="589.94" x2="697.75" y2="623.59" stroke="#1f1f1f" stroke-width="1.15"/>
<line x1="700.67" y1="589.94" x2="700.67" y2="623.59" stroke="#1f1f1f" stroke-width="1.15"/>
<line x1="715.91" y1="589.94" x2="715.91" y2="623.59" stroke="#1f1f1f" stroke-width="1.15"/>
<rect x="904" y="589.94" width="21.17" height="33.65" fill="#fff" stroke="#1f1f1f" stroke-width="1.5"/>
<line x1="905.41" y1="589.94" x2="905.41" y2="623.59" stroke="#1f1f1f" stroke-width="1.15"/>
<line x1="921.18" y1="589.94" x2="921.18" y2="623.59" stroke="#1f1f1f" stroke-width="1.15"/>
<line x1="922.69" y1="589.94" x2="922.69" y2="623.59" stroke="#1f1f1f" stroke-width="1.15"/>
<path d="M728.23 623.59V635.7 M729.47 623.59V635.7" stroke="#1f1f1f" stroke-width="1"/>
<rect x="413" y="575.2" width="11.8" height="3.7" fill="#1f1f1f"/>
<rect x="656" y="575.2" width="11.8" height="3.7" fill="#1f1f1f"/>
<rect x="684.4" y="575.2" width="11.7" height="3.7" fill="#1f1f1f"/>
<rect x="921.5" y="575.2" width="11.8" height="3.7" fill="#1f1f1f"/>
<path d="M369 640.2H401.5L403.8 643.3L406 640.2H946.5L948.7 643.3L951 640.2H983A3 3 0 0 1 986 643.2V711.8A3 3 0 0 1 983 714.8H951L948.7 711.7L946.5 714.8H406L403.8 711.7L401.5 714.8H369A3 3 0 0 1 366 711.8V643.2A3 3 0 0 1 369 640.2Z" stroke="#1f1f1f" stroke-width="1.9"/>
<rect x="406" y="641" width="540" height="2.2" fill="#6a6a6a"/>
<rect x="406" y="712" width="540" height="2" fill="#6a6a6a"/>
<path d="M405 643.5H947M405 711.5H947" stroke="#1f1f1f" stroke-width="1.2"/>
<rect x="957.5" y="636.3" width="20" height="3.7" fill="#777" stroke="#1f1f1f" stroke-width="1.2"/>
<path d="M961 636.3V601C961 600 962 599.4 963 599.4H972C973 599.4 974 600 974 601V636.3" stroke="#1f1f1f" stroke-width="1.3" fill="#fff"/>
<path d="M960 605.2H975M961 603H974" stroke="#1f1f1f" stroke-width="1.2"/>
<path d="M960 610.4H975M961 608.2H974" stroke="#1f1f1f" stroke-width="1.2"/>
<path d="M960 615.6H975M961 613.4H974" stroke="#1f1f1f" stroke-width="1.2"/>
<path d="M960 620.8H975M961 618.6H974" stroke="#1f1f1f" stroke-width="1.2"/>
<path d="M960 626H975M961 623.8H974" stroke="#1f1f1f" stroke-width="1.2"/>
<path d="M960 631.2H975M961 629H974" stroke="#1f1f1f" stroke-width="1.2"/>
<rect x="365.3" y="740.6" width="621.3" height="270.7" stroke="#1f1f1f" stroke-width="1.6"/>
<path d="M367.6 741V1011M984.6 741V1011" stroke="#1f1f1f" stroke-width="1"/>
<path d="M402.8 740.6V1011.3M949.3 740.6V1011.3" stroke="#1f1f1f" stroke-width="1.8"/>
<path d="M405.6 744.3V762M945.9 744.3V762M405.6 990V1008.2M945.9 990V1008.2" stroke="#1f1f1f" stroke-width="1.1"/>
<path d="M405.4 744.3H945.7M405.4 1008.2H945.7" stroke="#1f1f1f" stroke-width="1.6"/>
<rect x="403.4" y="761.8" width="542.8" height="229.4" fill="#1f1f1f"/>
<line x1="404.6" y1="771.7" x2="945.7" y2="771.7" stroke="#fff" stroke-width="13.2" stroke-dasharray="1.9 1.637" stroke-linecap="butt"/>
<line x1="427" y1="762.9" x2="922" y2="762.9" stroke="#b4b4b4" stroke-width="1"/>
<line x1="404.6" y1="789.15" x2="945.7" y2="789.15" stroke="#fff" stroke-width="13.2" stroke-dasharray="1.9 1.637" stroke-linecap="butt"/>
<line x1="403.4" y1="780.35" x2="945.7" y2="780.35" stroke="#b4b4b4" stroke-width="1"/>
<line x1="404.6" y1="806.6" x2="945.7" y2="806.6" stroke="#fff" stroke-width="13.2" stroke-dasharray="1.9 1.637" stroke-linecap="butt"/>
<line x1="403.4" y1="797.8" x2="945.7" y2="797.8" stroke="#b4b4b4" stroke-width="1"/>
<line x1="404.6" y1="824.05" x2="945.7" y2="824.05" stroke="#fff" stroke-width="13.2" stroke-dasharray="1.9 1.637" stroke-linecap="butt"/>
<line x1="403.4" y1="815.25" x2="945.7" y2="815.25" stroke="#b4b4b4" stroke-width="1"/>
<line x1="404.6" y1="841.5" x2="945.7" y2="841.5" stroke="#fff" stroke-width="13.2" stroke-dasharray="1.9 1.637" stroke-linecap="butt"/>
<line x1="403.4" y1="832.7" x2="945.7" y2="832.7" stroke="#b4b4b4" stroke-width="1"/>
<line x1="404.6" y1="858.95" x2="945.7" y2="858.95" stroke="#fff" stroke-width="13.2" stroke-dasharray="1.9 1.637" stroke-linecap="butt"/>
<line x1="403.4" y1="850.15" x2="945.7" y2="850.15" stroke="#b4b4b4" stroke-width="1"/>
<line x1="404.6" y1="876.4" x2="945.7" y2="876.4" stroke="#fff" stroke-width="13.2" stroke-dasharray="1.9 1.637" stroke-linecap="butt"/>
<line x1="403.4" y1="867.6" x2="945.7" y2="867.6" stroke="#b4b4b4" stroke-width="1"/>
<line x1="404.6" y1="893.85" x2="945.7" y2="893.85" stroke="#fff" stroke-width="13.2" stroke-dasharray="1.9 1.637" stroke-linecap="butt"/>
<line x1="403.4" y1="885.05" x2="945.7" y2="885.05" stroke="#b4b4b4" stroke-width="1"/>
<line x1="404.6" y1="911.3" x2="945.7" y2="911.3" stroke="#fff" stroke-width="13.2" stroke-dasharray="1.9 1.637" stroke-linecap="butt"/>
<line x1="403.4" y1="902.5" x2="945.7" y2="902.5" stroke="#b4b4b4" stroke-width="1"/>
<line x1="404.6" y1="928.75" x2="945.7" y2="928.75" stroke="#fff" stroke-width="13.2" stroke-dasharray="1.9 1.637" stroke-linecap="butt"/>
<line x1="403.4" y1="919.95" x2="945.7" y2="919.95" stroke="#b4b4b4" stroke-width="1"/>
<line x1="404.6" y1="946.2" x2="945.7" y2="946.2" stroke="#fff" stroke-width="13.2" stroke-dasharray="1.9 1.637" stroke-linecap="butt"/>
<line x1="403.4" y1="937.4" x2="945.7" y2="937.4" stroke="#b4b4b4" stroke-width="1"/>
<line x1="404.6" y1="963.65" x2="945.7" y2="963.65" stroke="#fff" stroke-width="13.2" stroke-dasharray="1.9 1.637" stroke-linecap="butt"/>
<line x1="403.4" y1="954.85" x2="945.7" y2="954.85" stroke="#b4b4b4" stroke-width="1"/>
<line x1="404.6" y1="981.1" x2="945.7" y2="981.1" stroke="#fff" stroke-width="13.2" stroke-dasharray="1.9 1.637" stroke-linecap="butt"/>
<line x1="403.4" y1="972.3" x2="945.7" y2="972.3" stroke="#b4b4b4" stroke-width="1"/>
<line x1="427" y1="989.75" x2="922" y2="989.75" stroke="#b4b4b4" stroke-width="1"/>
<path d="M429 762V754.7Q429 750.6 433.2 750.6H644.3Q648.5 750.6 648.5 754.7V762Z" fill="#1f1f1f"/>
<line x1="431.8" y1="756.6" x2="646.5" y2="756.6" stroke="#fff" stroke-width="9.5" stroke-dasharray="1.75 1.787" stroke-linecap="butt"/>
<path d="M429 990V998Q429 1002.6 433.2 1002.6H644.3Q648.5 1002.6 648.5 998V990Z" fill="#1f1f1f"/>
<line x1="431.8" y1="996.5" x2="646.5" y2="996.5" stroke="#fff" stroke-width="9.2" stroke-dasharray="1.75 1.787" stroke-linecap="butt"/>
<path d="M703.1 762V754.7Q703.1 750.6 707.3 750.6H917.8Q922 750.6 922 754.7V762Z" fill="#1f1f1f"/>
<line x1="705.9" y1="756.6" x2="920" y2="756.6" stroke="#fff" stroke-width="9.5" stroke-dasharray="1.75 1.787" stroke-linecap="butt"/>
<path d="M703.1 990V998Q703.1 1002.6 707.3 1002.6H917.8Q922 1002.6 922 998V990Z" fill="#1f1f1f"/>
<line x1="705.9" y1="996.5" x2="920" y2="996.5" stroke="#fff" stroke-width="9.2" stroke-dasharray="1.75 1.787" stroke-linecap="butt"/>
<line x1="405.4" y1="762.6" x2="945.7" y2="762.6" stroke="#1f1f1f" stroke-width="1.5"/>
<line x1="405.4" y1="989.8" x2="945.7" y2="989.8" stroke="#1f1f1f" stroke-width="1.5"/>
<path d="M408.1 755.4h15M415.6 747.9v15" stroke="#1f1f1f" stroke-width="1.5"/>
<circle cx="415.6" cy="755.4" r="2.6" fill="#1f1f1f"/>
<path d="M408.1 997h15M415.6 989.5v15" stroke="#1f1f1f" stroke-width="1.5"/>
<circle cx="415.6" cy="997" r="2.6" fill="#1f1f1f"/>
<path d="M653.1 755.4h15M660.6 747.9v15" stroke="#1f1f1f" stroke-width="1.5"/>
<circle cx="660.6" cy="755.4" r="2.6" fill="#1f1f1f"/>
<path d="M653.1 997h15M660.6 989.5v15" stroke="#1f1f1f" stroke-width="1.5"/>
<circle cx="660.6" cy="997" r="2.6" fill="#1f1f1f"/>
<path d="M683.1 755.4h15M690.6 747.9v15" stroke="#1f1f1f" stroke-width="1.5"/>
<circle cx="690.6" cy="755.4" r="2.6" fill="#1f1f1f"/>
<path d="M683.1 997h15M690.6 989.5v15" stroke="#1f1f1f" stroke-width="1.5"/>
<circle cx="690.6" cy="997" r="2.6" fill="#1f1f1f"/>
<path d="M927 755.4h15M934.5 747.9v15" stroke="#1f1f1f" stroke-width="1.5"/>
<circle cx="934.5" cy="755.4" r="2.6" fill="#1f1f1f"/>
<path d="M927 997h15M934.5 989.5v15" stroke="#1f1f1f" stroke-width="1.5"/>
<circle cx="934.5" cy="997" r="2.6" fill="#1f1f1f"/>
<path d="M952 852.3h30M967.2 837.3v30" stroke="#1f1f1f" stroke-width="1.1"/>
<circle cx="967.2" cy="852.3" r="10.6" fill="#fff" stroke="#1f1f1f" stroke-width="1.4"/>
<circle cx="967.2" cy="852.3" r="6.2" stroke="#1f1f1f" stroke-width="3.6"/>
<circle cx="967.2" cy="852.3" r="3.6" fill="#fff" stroke="#1f1f1f" stroke-width="1"/>
<path d="M963.6 852.3h7.2M967.2 848.7v7.2" stroke="#1f1f1f" stroke-width="1"/>
<path d="M952 900.7h30M967.2 885.7v30" stroke="#1f1f1f" stroke-width="1.1"/>
<circle cx="967.2" cy="900.7" r="10.6" fill="#fff" stroke="#1f1f1f" stroke-width="1.4"/>
<circle cx="967.2" cy="900.7" r="6.2" stroke="#1f1f1f" stroke-width="3.6"/>
<circle cx="967.2" cy="900.7" r="3.6" fill="#fff" stroke="#1f1f1f" stroke-width="1"/>
<path d="M963.6 900.7h7.2M967.2 897.1v7.2" stroke="#1f1f1f" stroke-width="1"/>
<rect x="238.7" y="741.6" width="75.7" height="269.4" stroke="#262626" stroke-width="1.3"/>
<path d="M241.7 741.6V1011M311.4 741.6V1011M238.7 745.3H314.4M238.7 1007.4H314.4" stroke="#262626" stroke-width="1.3"/>
<rect x="235.4" y="837.1" width="3.3" height="22.5" stroke="#262626" stroke-width="1.1"/>
<line x1="235.4" y1="848.3" x2="238.7" y2="848.3" stroke="#262626" stroke-width="1"/>
<path d="M235.4 841.4 H224.6 L220.8 840.4 H214.6 L210.8 841.4 H205.4 L201.7 840.2 H196.2 L192.1 841.6 V855 L196.2 856.4 H201.7 L205.4 855.2 H210.8 L214.6 856.4 H220.8 L224.6 855.2 H235.4" fill="#fff" stroke="#262626" stroke-width="1.25"/>
<path d="M196.2 841.6V855M201.7 840.2V856.4M205.4 841.4V855.2M210.8 840.2V856.4M214.6 841.4V855.2M220.8 840.4V856.2M224.6 841.4V855.2" stroke="#262626" stroke-width="1.1"/>
<rect x="235.4" y="893.4" width="3.3" height="22.5" stroke="#262626" stroke-width="1.1"/>
<line x1="235.4" y1="904.6" x2="238.7" y2="904.6" stroke="#262626" stroke-width="1"/>
<path d="M235.4 897.7 H224.6 L220.8 896.7 H214.6 L210.8 897.7 H205.4 L201.7 896.5 H196.2 L192.1 897.9 V911.3 L196.2 912.7 H201.7 L205.4 911.5 H210.8 L214.6 912.7 H220.8 L224.6 911.5 H235.4" fill="#fff" stroke="#262626" stroke-width="1.25"/>
<path d="M196.2 897.9V911.3M201.7 896.5V912.7M205.4 897.7V911.5M210.8 896.5V912.7M214.6 897.7V911.5M220.8 896.7V912.5M224.6 897.7V911.5" stroke="#262626" stroke-width="1.1"/>
</svg></body></html>
